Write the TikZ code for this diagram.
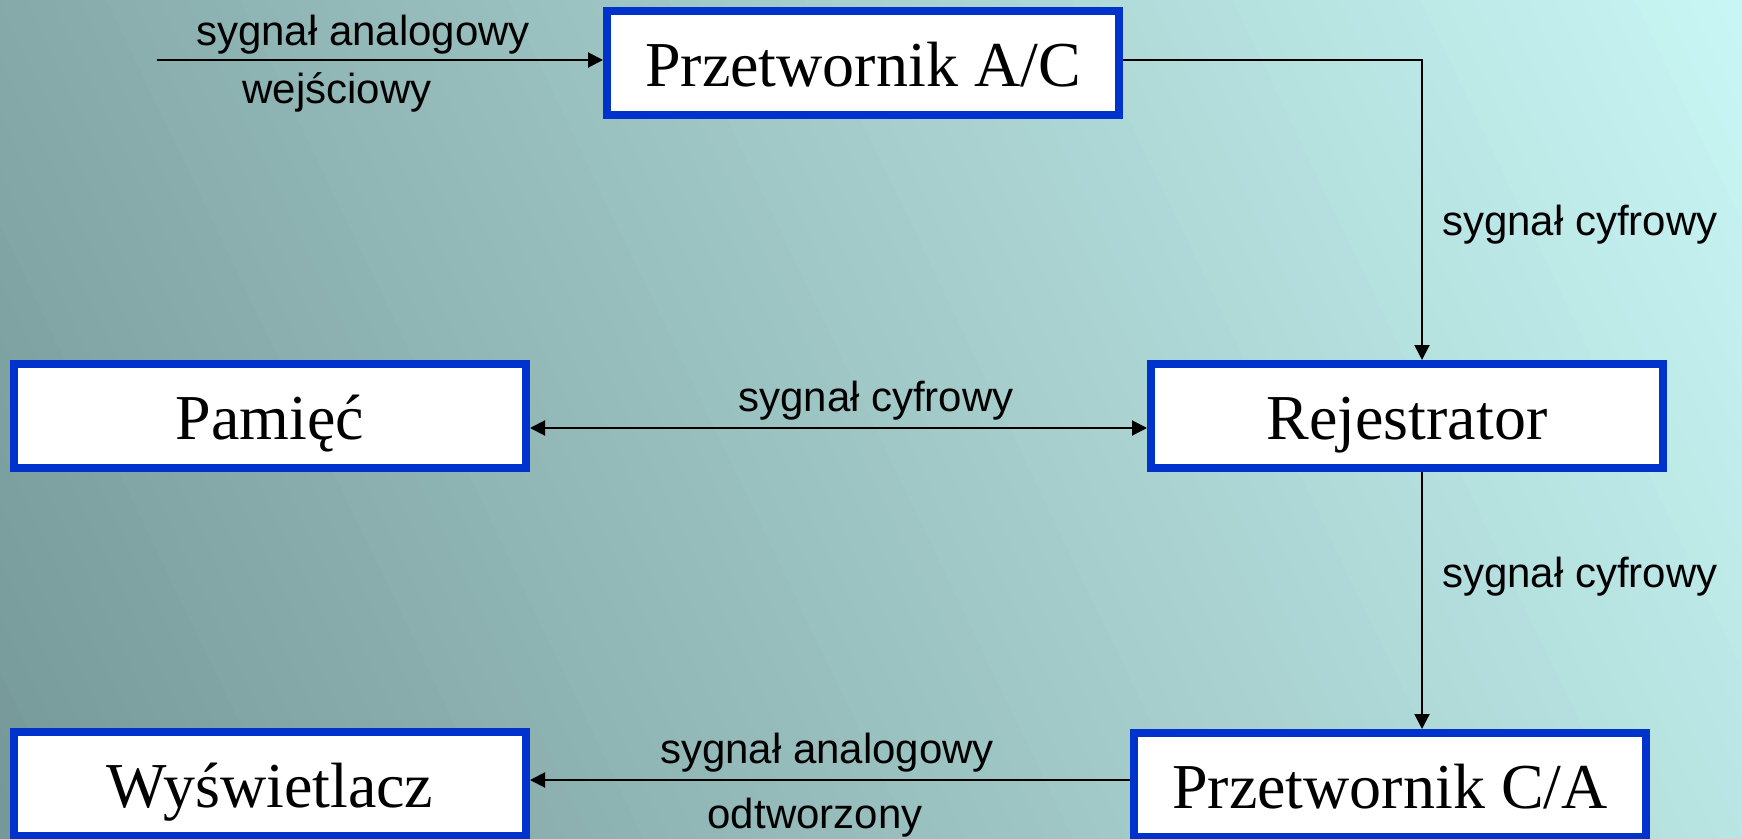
\documentclass[tikz,border=0pt]{standalone}
\usepackage{fontspec}
\setmainfont{Liberation Serif}
\newfontfamily\labelfont{Liberation Sans}
\usetikzlibrary{arrows.meta}
\definecolor{bgdark}{RGB}{118,152,152}
\definecolor{bglight}{RGB}{200,246,244}
\definecolor{boxblue}{RGB}{0,51,204}
\begin{document}
\begin{tikzpicture}[x=1pt,y=-1pt,
  blockbox/.style={draw=boxblue, line width=8pt, fill=white, minimum width=512pt, minimum height=104pt, inner sep=0pt, text height=46pt, text depth=0pt, font=\fontsize{64}{70}\selectfont},
  sig/.style={font=\labelfont\fontsize{42}{48}\selectfont, inner sep=0pt},
  conn/.style={line width=2pt, -{Triangle[length=15pt,width=15pt]}},
  conn2/.style={line width=2pt, {Triangle[length=15pt,width=15pt]}-{Triangle[length=15pt,width=15pt]}},
]
\useasboundingbox (0,0) rectangle (1742,838);
\clip (0,0) rectangle (1742,838);
\begin{scope}[shift={(0,838)}, rotate=25.69, y=1pt]
  \foreach \i in {0,...,79}{
    \pgfmathsetmacro\p{1.26582*\i}
    \pgfmathsetmacro\xa{24.1625*\i}
    \pgfmathsetmacro\xb{24.1625*\i+25.2}
    \fill[bglight!\p!bgdark] (\xa,-1300) rectangle (\xb,1300);
  }
  \fill[bglight] (1933,-1300) rectangle (2600,1300);
  \fill[bgdark] (-800,-1300) rectangle (0.5,1300);
\end{scope}

\node[blockbox] (ac) at (863,63) {Przetwornik A/C};
\node[blockbox] (pam) at (270,416) {Pamięć};
\node[blockbox] (rej) at (1407,416) {Rejestrator};
\node[blockbox] (wys) at (270,784) {Wyświetlacz};
\node[blockbox] (ca) at (1390,785) {Przetwornik C/A};

\coordinate (in) at (157,60);
\draw[conn] (in) -- (in -| ac.west);
\draw[conn] ([yshift=3pt]ac.east) -| ([xshift=15pt]rej.north);
\draw[conn2] ([yshift=-12pt]rej.west) -- ([yshift=-12pt]pam.east);
\draw[conn] ([xshift=15pt]rej.south) -- ([xshift=15pt]rej.south |- ca.north);
\draw[conn] ([yshift=5pt]ca.west) -- ([yshift=5pt]ca.west -| wys.east);

\node[sig, anchor=base] (l1) at (363,45) {sygnał analogowy};
\node[sig, anchor=base] (l2) at (337,103) {wejściowy};
\node[sig, anchor=base west] (l3) at (1442,235) {sygnał cyfrowy};
\node[sig, anchor=base] (l4) at (876,411) {sygnał cyfrowy};
\node[sig, anchor=base west] (l5) at (1442,587) {sygnał cyfrowy};
\node[sig, anchor=base] (l6) at (827,763) {sygnał analogowy};
\node[sig, anchor=base] (l7) at (815,828) {odtworzony};
\end{tikzpicture}
\end{document}
